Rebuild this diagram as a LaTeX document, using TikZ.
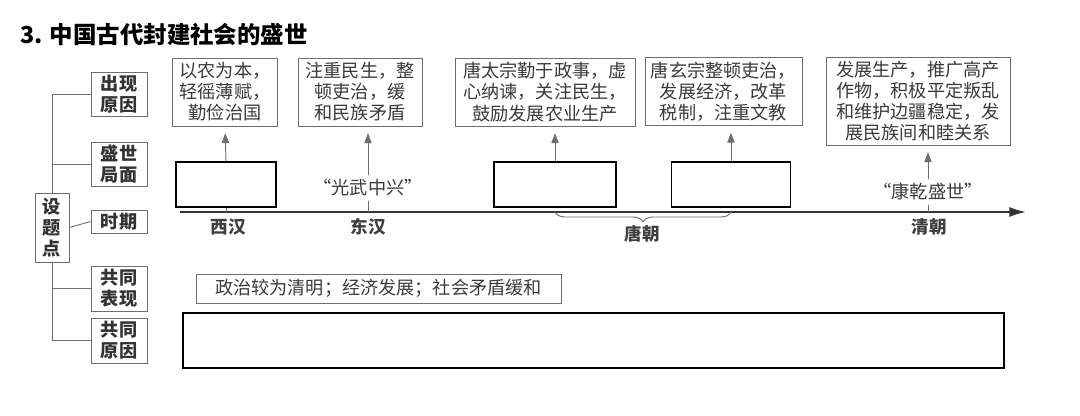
\documentclass[tikz,border=0pt]{standalone}
\usepackage{fontspec}
\setmainfont{Noto Sans CJK SC}
\usetikzlibrary{arrows.meta,decorations.pathreplacing}
\definecolor{linegray}{HTML}{6E6E6E}
\definecolor{textgray}{HTML}{3A3A3A}
\tikzset{
    treebox/.style={draw=linegray, line width=0.8pt, inner sep=0pt, align=center, text=black!80, font=\fontsize{15.5}{18}\selectfont\bfseries, minimum width=1.68cm},
    notebox/.style={draw=linegray, line width=0.8pt, inner sep=0pt, align=center, text=textgray, font=\fontsize{15.5}{18}\selectfont, minimum height=2.04cm},
    blankbox/.style={draw=black, line width=1.2pt, inner sep=0pt},
    era/.style={font=\fontsize{15}{18}\selectfont\bfseries, text=black!75},
    saying/.style={text=textgray, font=\fontsize{15.5}{18}\selectfont},
    upline/.style={linegray, line width=0.8pt, -{Triangle[length=0.3cm,width=0.22cm]}, shorten >=0.2cm},
    thin/.style={linegray, line width=0.8pt}
}
\begin{document}
\begin{tikzpicture}[x=0.03cm,y=-0.03cm]
    \useasboundingbox (0,0) rectangle (1080,415);
    \node[anchor=west, inner sep=0pt, font=\fontsize{20}{24}\selectfont\bfseries] (title) at (20,34) {3. 中国古代封建社会的盛世};

    \node[treebox, minimum width=1.02cm, minimum height=2.07cm] (point) at (52,227.5) {设\\题\\点};
    \node[treebox, minimum height=1.32cm] (reason) at (119,94) {出现\\原因};
    \node[treebox, minimum height=1.32cm] (scene) at (119,164) {盛世\\局面};
    \node[treebox, minimum height=0.69cm] (period) at (119,221.5) {时期};
    \node[treebox, minimum height=1.35cm] (show) at (119,288.5) {共同\\表现};
    \node[treebox, minimum height=1.35cm] (cause) at (119,340.5) {共同\\原因};
    \draw[thin] (point.north) |- (reason.west);
    \draw[thin] (point.north) |- (scene.west);
    \draw[thin] (point.east) -- (period.west);
    \draw[thin] (point.south) |- (show.west);
    \draw[thin] (point.south) |- (cause.west);

    \coordinate (tlstart) at (180,212);
    \coordinate (tlend) at (1026,212);
    \draw[line width=1.2pt, black!80, -{Latex[length=0.5cm,width=0.3cm]}] (tlstart) -- (tlend);

    \node[blankbox, minimum width=3.0cm, minimum height=1.35cm] (xhblank) at (226,184.5) {};
    \node[blankbox, minimum width=3.66cm, minimum height=1.35cm] (tzblank) at (555,184.5) {};
    \node[blankbox, minimum width=3.57cm, minimum height=1.35cm] (xzblank) at (731,184.5) {};

    \node[notebox, minimum width=3.15cm] (xhnote) at (225,92) {以农为本，\\轻徭薄赋，\\勤俭治国};
    \node[notebox, minimum width=3.72cm] (dhnote) at (360,92) {注重民生，整\\顿吏治，缓\\和民族矛盾};
    \node[notebox, minimum width=5.4cm] (tznote) at (545,92) {唐太宗勤于政事，虚\\心纳谏，关注民生，\\鼓励发展农业生产};
    \node[notebox, minimum width=4.71cm] (xznote) at (723.5,91.5) {唐玄宗整顿吏治，\\发展经济，改革\\税制，注重文教};
    \node[notebox, minimum width=5.52cm, minimum height=2.64cm] (qcnote) at (918,101) {发展生产，推广高产\\作物，积极平定叛乱\\和维护边疆稳定，发\\展民族间和睦关系};

    \node[saying] (gwzx) at (368,188) {“光武中兴”};
    \node[saying] (kqss) at (928,192) {“康乾盛世”};

    \draw[upline] (xhblank.north) -- (xhnote.south);
    \draw[upline] (gwzx.north) -- (gwzx.north |- dhnote.south);
    \draw[upline] (tzblank.north) -- (tzblank.north |- tznote.south);
    \draw[upline] (xzblank.north) -- (xzblank.north |- xznote.south);
    \draw[upline] (kqss.north) -- (kqss.north |- qcnote.south);

    \draw[thin] (xhblank.south) -- (xhblank.south |- tlstart);
    \draw[thin] (gwzx.south) -- (gwzx.south |- tlstart);
    \draw[thin] (kqss.south) -- (kqss.south |- tlstart);
    \draw[thin, decorate, decoration={brace, mirror, amplitude=0.3cm}] (tzblank.south |- tlstart) -- (xzblank.south |- tlstart);

    \node[era] (xh) at (228,227) {西汉};
    \node[era] (dh) at (368,227) {东汉};
    \node[era] (tang) at (642,234) {唐朝};
    \node[era] (qing) at (929,227) {清朝};

    \node[notebox, minimum width=10.95cm, minimum height=0.87cm] (common) at (378.5,288.5) {政治较为清明；经济发展；社会矛盾缓和};
    \node[blankbox, minimum width=24.63cm, minimum height=1.65cm] (causeblank) at (593.5,340.5) {};
\end{tikzpicture}
\end{document}
